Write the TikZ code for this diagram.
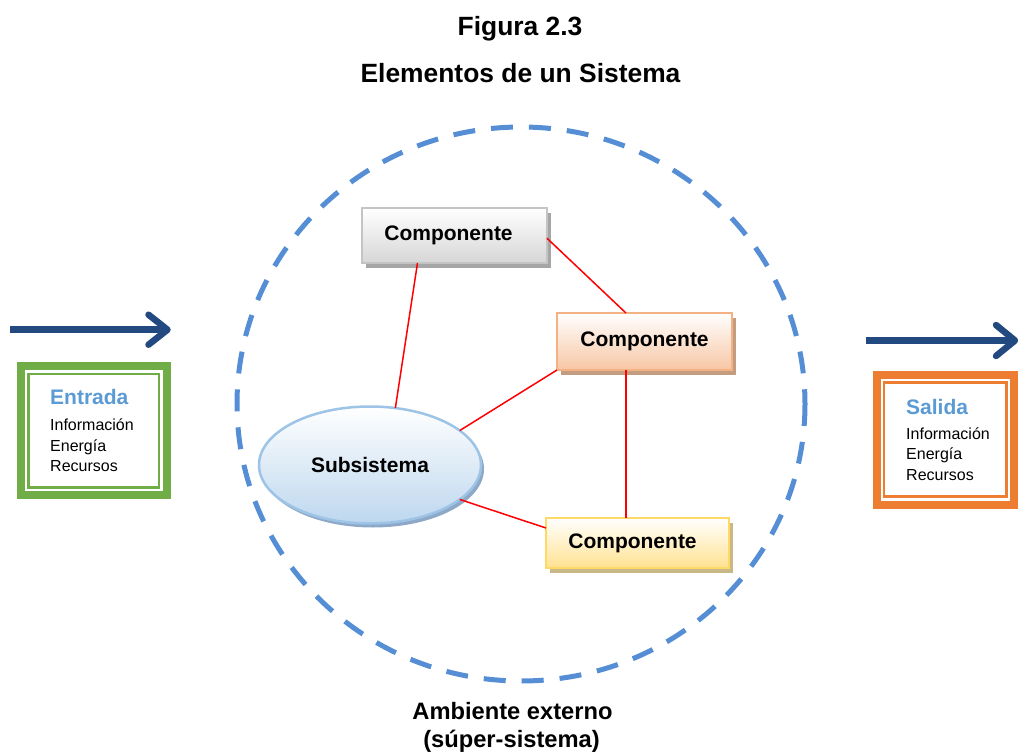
\documentclass[tikz,border=0pt]{standalone}
\usepackage{fontspec}
\setmainfont{Liberation Sans}
\usetikzlibrary{shadows,calc,shapes.geometric}

\definecolor{ringblue}{RGB}{85,142,213}
\definecolor{navyarrow}{RGB}{34,74,128}
\definecolor{headblue}{RGB}{91,155,213}
\definecolor{ingreen}{RGB}{112,173,71}
\definecolor{outorange}{RGB}{237,125,49}
\definecolor{grayline}{RGB}{196,196,196}
\definecolor{graybot}{RGB}{214,214,214}
\definecolor{grayshadow}{RGB}{166,166,166}
\definecolor{orgline}{RGB}{244,177,131}
\definecolor{orgbot}{RGB}{247,198,164}
\definecolor{orgshadow}{RGB}{196,156,128}
\definecolor{ylwline}{RGB}{255,217,102}
\definecolor{ylwbot}{RGB}{255,226,145}
\definecolor{ylwshadow}{RGB}{200,184,136}
\definecolor{ellline}{RGB}{157,195,230}
\definecolor{ellbot}{RGB}{189,215,238}
\definecolor{ellshadow}{RGB}{142,168,199}

\newcommand\boxfont{\fontsize{21}{25}\selectfont\bfseries}
\newcommand\infofont{\fontsize{16}{20}\selectfont}
\newcommand\headfont{\fontsize{26.4}{30}\selectfont\bfseries}
\newcommand\footfont{\fontsize{23.7}{28}\selectfont\bfseries}

\begin{document}
\begin{tikzpicture}[x=1pt,y=-1pt,
  compbox/.style n args={3}{draw=#1, line width=1.5pt, top color=white,
    bottom color=#2, drop shadow={shadow xshift=4pt, shadow yshift=-5pt,
    fill=#3, opacity=1}, font=\boxfont, inner sep=0pt, outer sep=0pt},
  subbox/.style={ellipse, draw=ellline, line width=2.5pt, top color=white,
    bottom color=ellbot, drop shadow={shadow xshift=3pt, shadow yshift=-4pt,
    fill=ellshadow, opacity=1}, font=\boxfont, inner sep=0pt, outer sep=0pt},
  link/.style={draw=red, line width=1.5pt},
  iobox/.style={draw=#1, line width=8pt, fill=white, inner sep=0pt, outer sep=0pt},
  ioinner/.style={draw=#1, line width=2.5pt},
  iohead/.style={anchor=base west, inner sep=0pt, font=\boxfont, text=headblue},
  ioline/.style={anchor=base west, inner sep=0pt, font=\infofont},
  arrowpen/.style={draw=navyarrow, line width=6.5pt, line cap=round, line join=round},
  caption/.style={anchor=base, inner sep=0pt}]

\useasboundingbox (0,0) rectangle (1018,752);
\clip (0,0) rectangle (1018,752);

% headings
\node[caption, font=\headfont] (fig) at (520,36) {Figura 2.3};
\node[caption, font=\headfont] (title) at (520.5,82) {Elementos de un Sistema};

% environment boundary
\draw[ringblue, line width=5pt, dash pattern=on 22pt off 16pt]
  (521,404) ellipse [x radius=284, y radius=277];

% inner elements
\node[compbox={grayline}{graybot}{grayshadow}, minimum width=185pt, minimum height=55pt]
  (c1) at (454.5,235.5) {\hspace*{-12pt}Componente};
\node[compbox={orgline}{orgbot}{orgshadow}, minimum width=175pt, minimum height=57pt]
  (c2) at (644.5,341.5) {Componente};
\node[compbox={ylwline}{ylwbot}{ylwshadow}, minimum width=183pt, minimum height=50pt]
  (c3) at (637.5,543) {\hspace*{-10pt}Componente};
\node[subbox, minimum width=222pt, minimum height=117pt] (sub) at (370,465) {Subsistema};

% relations
\draw[link] ($(c1.south west)!0.3!(c1.south east)$) -- (sub.66);
\draw[link] ($(c1.north east)!0.55!(c1.south east)$) -- ($(c2.north west)!0.394!(c2.north east)$);
\draw[link] (c2.south west) -- (sub.21.6);
\coordinate (c2foot) at ($(c2.south west)!0.394!(c2.south east)$);
\draw[link] (c2foot) -- (c2foot |- c3.north);
\draw[link] (sub.-21.6) -- ($(c3.north west)!0.2!(c3.south west)$);

% input
\node[iobox=ingreen, minimum width=146pt, minimum height=129pt] (entrada) at (93.7,430.8) {};
\draw[ioinner=ingreen] ([shift={(7.6,7.6)}]entrada.north west) rectangle ([shift={(-7.6,-7.6)}]entrada.south east);
\node[iohead] (e0) at (50,404.2) {Entrada};
\node[ioline] (e1) at (50,430) {Información};
\node[ioline] (e2) at (50,451) {Energía};
\node[ioline] (e3) at (50,471.5) {Recursos};

% output
\node[iobox=outorange, minimum width=137.3pt, minimum height=130pt] (salida) at (945.35,440) {};
\draw[ioinner=outorange] ([shift={(7.4,7.4)}]salida.north west) rectangle ([shift={(-7.4,-8.5)}]salida.south east);
\node[iohead] (s0) at (906,414.2) {Salida};
\node[ioline] (s1) at (906,439) {Información};
\node[ioline] (s2) at (906,459.7) {Energía};
\node[ioline] (s3) at (906,480.5) {Recursos};

% flow arrows
\coordinate (inA) at (10,329.7);
\coordinate (inB) at (167.5,329.7);
\draw[arrowpen, line cap=butt] (inA) -- (inB);
\draw[arrowpen] ($(inB)+(-19,-15)$) -- (inB) -- ($(inB)+(-19,15)$);

\coordinate (outA) at (866,340.5);
\coordinate (outB) at (1015,340.5);
\draw[arrowpen, line cap=butt] (outA) -- (outB);
\draw[arrowpen] ($(outB)+(-19,-15.5)$) -- (outB) -- ($(outB)+(-19,15.5)$);

% environment label
\node[caption, font=\footfont] (amb1) at (512.5,719.5) {Ambiente externo};
\node[caption, font=\footfont] (amb2) at (511.5,747) {(súper-sistema)};
\end{tikzpicture}
\end{document}
